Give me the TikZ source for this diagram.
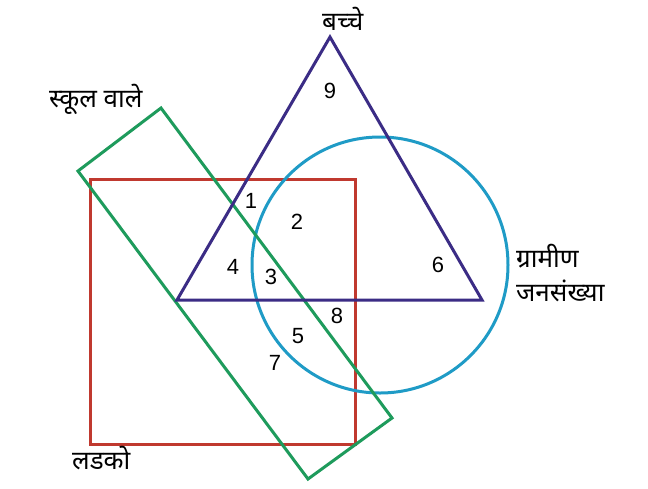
\documentclass[tikz,border=0pt]{standalone}
\usepackage{fontspec}
\setmainfont{Liberation Sans}
\newfontfamily\devfont[Script=Devanagari]{Noto Sans}
\definecolor{triC}{HTML}{3B2C85}
\definecolor{sqC}{HTML}{C0392F}
\definecolor{cirC}{HTML}{1F9BC6}
\definecolor{grC}{HTML}{1E9B5C}
\tikzset{
  shapeline/.style={line width=3pt, line join=miter},
  num/.style={font=\fontsize{22}{26}\selectfont, inner sep=0pt},
  lbl/.style={font=\devfont\fontsize{26}{30}\selectfont, inner sep=0pt, anchor=base west},
}
\begin{document}
\begin{tikzpicture}[x=1pt,y=-1pt]
\useasboundingbox[fill=white] (0,0) rectangle (648,488);
% coordinates
\coordinate (tA) at (330,37);
\coordinate (tL) at (177,300);
\coordinate (tR) at (482,300);
\coordinate (cC) at (380,265);
\coordinate (g1) at (161,108);
\coordinate (g2) at (78,171);
\coordinate (g3) at (308,479);
\coordinate (g4) at (392,418);
% shapes
\draw[shapeline, sqC] (90,179) rectangle (355,444);
\draw[shapeline, cirC] (cC) circle[radius=128];
\draw[shapeline, grC] (g1) -- (g2) -- (g3) -- (g4) -- cycle;
\draw[shapeline, triC] (tA) -- (tL) -- (tR) -- cycle;
% numbers
\node[num] (n9) at (330,91) {9};
\node[num] (n1) at (251,201) {1};
\node[num] (n2) at (297,222) {2};
\node[num] (n4) at (233,267) {4};
\node[num] (n3) at (271,277) {3};
\node[num] (n6) at (438,265) {6};
\node[num] (n8) at (337,316) {8};
\node[num] (n5) at (298,336) {5};
\node[num] (n7) at (275,363) {7};
% labels
\node[lbl] (lc) at (322,30) {बच्चे};
\node[lbl] (ls) at (49,107) {स्कूल वाले};
\node[lbl] (lg) at (516,267) {ग्रामीण};
\node[lbl] (lj) at (516,301) {जनसंख्या};
\node[lbl] (ll) at (72,469) {लडको};
\end{tikzpicture}
\end{document}
